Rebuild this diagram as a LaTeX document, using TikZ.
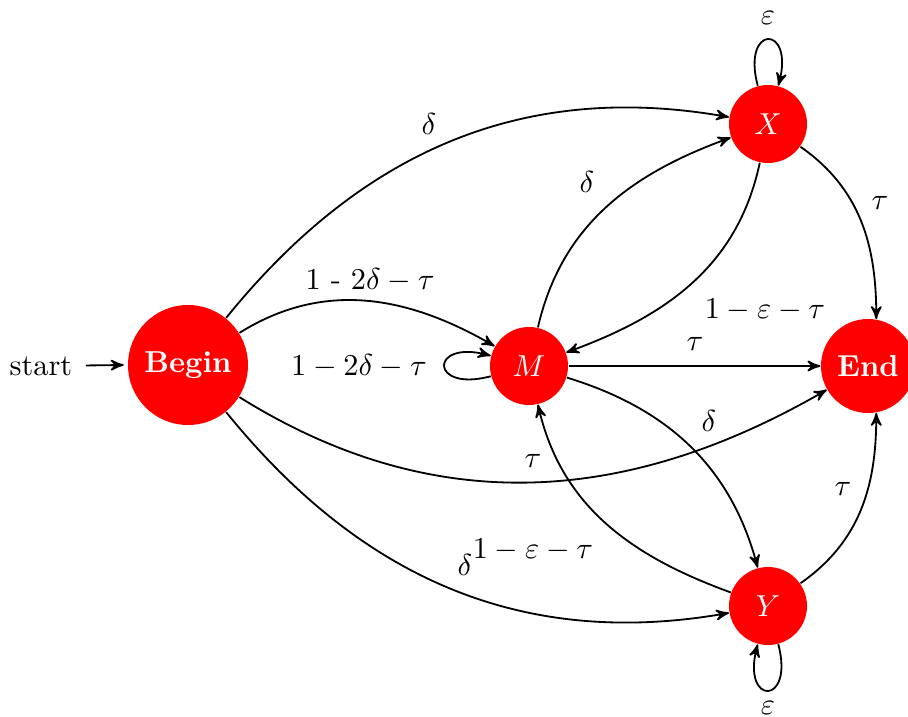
\documentclass[tikz,border=0pt]{standalone}
\usetikzlibrary{arrows}
\begin{document}
\begin{tikzpicture}[x=0.33pt,y=0.33pt,>=stealth',
  state/.style={circle,fill=red,text=white,inner sep=0pt},
  edgeline/.style={->,semithick},
  lbl/.style={inner sep=0pt}]
\useasboundingbox (0,0) rectangle (908,716);
\node[state,minimum size=120*0.33pt,font=\bfseries] (B) at (188,351) {Begin};
\node[state,minimum size=78*0.33pt] (M) at (529,350) {$M$};
\node[state,minimum size=78*0.33pt] (X) at (768,592) {$X$};
\node[state,minimum size=78*0.33pt] (Y) at (768,110) {$Y$};
\node[state,minimum size=94*0.33pt,font=\bfseries] (E) at (868,350) {End};
\node[inner xsep=4.3pt,inner ysep=0pt] (s) at (41,350) {start};

\draw[edgeline] (s) -- ([xshift=-1.2pt]B.west);
\draw[edgeline] (B) to[out=51,in=170] (X);
\draw[edgeline] (B) to[out=32,in=150] (M);
\draw[edgeline] (M) to[loop left] (M);
\draw[edgeline] (B) to[out=-32,in=210] (E);
\draw[edgeline] (B) to[out=-51,in=190] (Y);
\draw[edgeline] (M) to[out=77,in=200] (X);
\draw[edgeline] (X) to[out=-102,in=20] (M);
\draw[edgeline] (M) -- (E);
\draw[edgeline] (M) to[out=-17,in=105] (Y);
\draw[edgeline] (Y) to[out=160,in=-77] (M);
\draw[edgeline] (X) to[out=-35,in=90] (E.80);
\draw[edgeline] (Y) to[out=35,in=-90] (E.-80);
\draw[edgeline] (X) to[loop above] (X);
\draw[edgeline] (Y) to[loop below] (Y);

\node[lbl] (l1) at (429,592) {$\delta$};
\node[lbl] (l2) at (370,436) {1 - 2$\delta - \tau$};
\node[lbl] (l3) at (359,350) {$1 - 2\delta - \tau$};
\node[lbl] (l4) at (533,255) {$\tau$};
\node[lbl] (l5) at (465,151) {$\delta$};
\node[lbl] (l6) at (587,534) {$\delta$};
\node[lbl] (l7) at (765,406) {$1 - \varepsilon - \tau$};
\node[lbl] (l8) at (695,372) {$\tau$};
\node[lbl] (l9) at (709,295) {$\delta$};
\node[lbl] (l10) at (533,166) {$1 - \varepsilon - \tau$};
\node[lbl] (l11) at (880,513) {$\tau$};
\node[lbl] (l12) at (843,227) {$\tau$};
\node[lbl] (l13) at (768,698) {$\varepsilon$};
\node[lbl] (l14) at (768,8) {$\varepsilon$};
\end{tikzpicture}
\end{document}
